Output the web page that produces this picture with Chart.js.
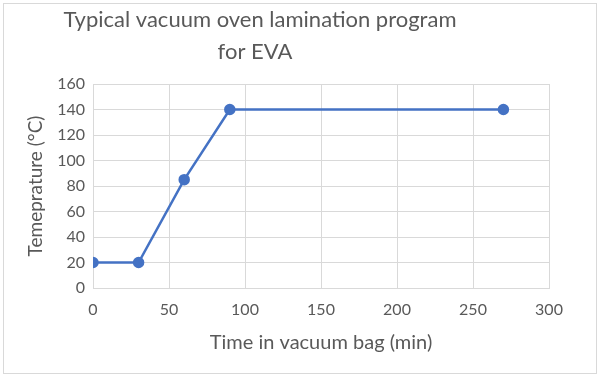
<!DOCTYPE html>
<html lang="en">
<head>
    <meta charset="UTF-8">
    <title>Typical vacuum oven lamination program for EVA</title>
    <script src="https://cdn.jsdelivr.net/npm/chart.js@4.4.0/dist/chart.umd.min.js"></script>
    <style>
        body { margin: 0; background: #ffffff; }
        #wrap { width: 600px; height: 377px; }
    </style>
</head>
<body>
    <div id="wrap"><canvas id="chart" width="600" height="377"></canvas></div>

    <script>
        // values
        const timeMin = [0, 30, 60, 90, 270];
        const tempC = [20, 20, 85, 140, 140];
        const titleLines = ['Typical vacuum oven lamination program', 'for EVA'];
        const xTitle = 'Time in vacuum bag (min)';
        const yTitle = 'Temeprature (°C)';

        const textColor = '#595959';
        const gridColor = '#d9d9d9';
        const lineColor = '#4472c4';

        // white background, thin grey frame, and the title (Excel puts it a bit left of centre)
        const frame = {
            id: 'frame',
            beforeDraw(chart) {
                const c = chart.ctx;
                c.save();
                c.fillStyle = '#ffffff';
                c.fillRect(0, 0, chart.width, chart.height);
                c.strokeStyle = gridColor;
                c.lineWidth = 1;
                c.strokeRect(3.5, 3.5, chart.width - 7, chart.height - 7);

                c.fillStyle = textColor;
                c.font = '22px Lato';
                c.textAlign = 'center';
                c.textBaseline = 'middle';
                const titleX = [260, 255];
                titleLines.forEach((line, i) => {
                    c.fillText(line, titleX[i], 20 + i * 32);
                });
                c.restore();
            }
        };

        const points = timeMin.map((t, i) => ({ x: t, y: tempC[i] }));

        const ctx = document.getElementById('chart').getContext('2d');
        new Chart(ctx, {
            type: 'scatter',
            data: {
                datasets: [{
                    label: 'EVA',
                    data: points,
                    showLine: true,
                    borderColor: lineColor,
                    backgroundColor: lineColor,
                    borderWidth: 2.5,
                    pointRadius: 4.5,
                    pointHoverRadius: 4.5
                }]
            },
            options: {
                responsive: false,
                animation: false,
                layout: { padding: { left: 24, right: 51, top: 84, bottom: 18 } },
                plugins: {
                    legend: { display: false },
                    tooltip: { enabled: false },
                    title: { display: false }
                },
                scales: {
                    x: {
                        type: 'linear',
                        min: 0,
                        max: 300,
                        ticks: {
                            stepSize: 50,
                            color: textColor,
                            padding: 12,
                            font: { family: 'Lato', size: 16 }
                        },
                        grid: { color: gridColor, drawTicks: false },
                        border: { color: gridColor },
                        title: {
                            display: true,
                            text: xTitle,
                            color: textColor,
                            font: { family: 'Lato', size: 20 }
                        },
                        afterFit(scale) { scale.height = 71; }
                    },
                    y: {
                        min: 0,
                        max: 160,
                        ticks: {
                            stepSize: 20,
                            color: textColor,
                            padding: 8,
                            font: { family: 'Lato', size: 16 }
                        },
                        grid: { color: gridColor, drawTicks: false },
                        border: { color: gridColor },
                        title: {
                            display: true,
                            text: yTitle,
                            color: textColor,
                            padding: { top: 0, bottom: 4 },
                            font: { family: 'Lato', size: 19 }
                        },
                        afterFit(scale) { scale.width = 69; }
                    }
                }
            },
            plugins: [frame]
        });
    </script>
</body>
</html>
